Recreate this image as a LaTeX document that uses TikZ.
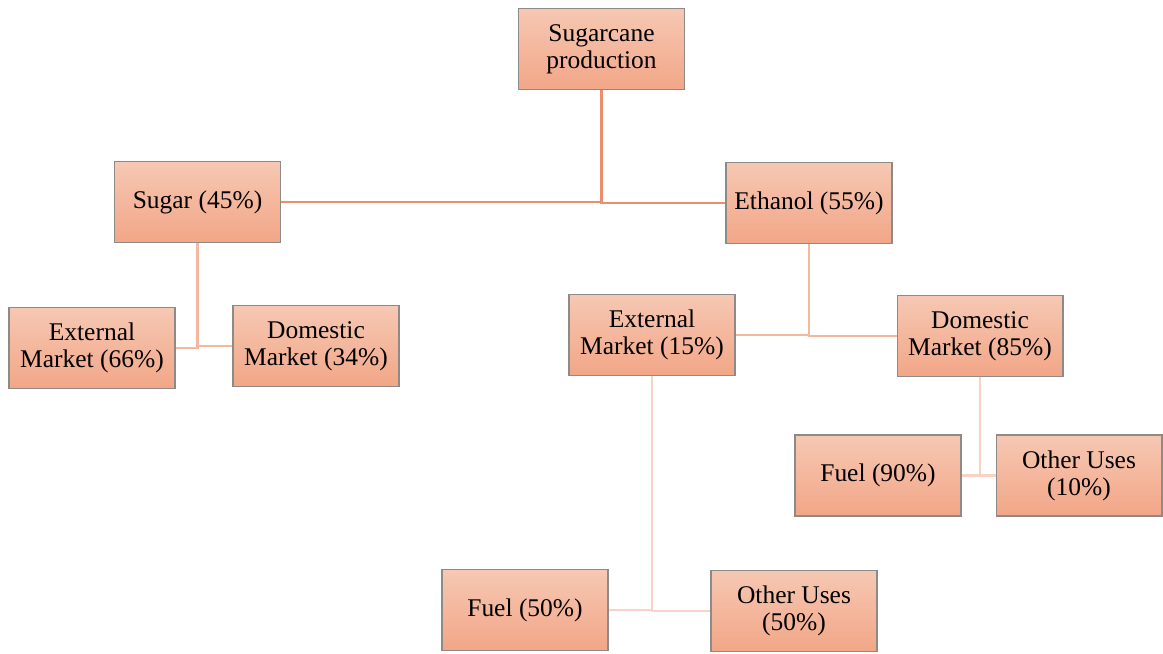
\documentclass[tikz,border=0pt]{standalone}
\usepackage{fontspec}
\setmainfont{Liberation Serif}
\definecolor{boxtop}{HTML}{F6C8B3}
\definecolor{boxbot}{HTML}{F2A687}
\definecolor{boxrand}{HTML}{8E8A88}
\definecolor{linieA}{HTML}{E98F6C}
\definecolor{linieB}{HTML}{F4B8A0}
\definecolor{linieC}{HTML}{F8D2C4}
\tikzset{
  kasten/.style={draw=boxrand, line width=0.6pt, top color=boxtop, bottom color=boxbot,
    minimum width=3.32cm, minimum height=1.62cm, align=center, inner sep=2pt,
    font=\fontsize{14.5}{15.5}\selectfont},
  verbA/.style={draw=linieA, line width=1.4pt},
  verbB/.style={draw=linieB, line width=1.4pt},
  verbC/.style={draw=linieC, line width=1.4pt}
}
\begin{document}
\begin{tikzpicture}[x=0.02cm,y=-0.02cm]
		\useasboundingbox (0,0) rectangle (1163,653);
		
		% Kaesten
		\node[kasten] (zuckerrohr) at (601.5,49) {Sugarcane\\production};
		\node[kasten] (zucker) at (197.5,202) {Sugar (45\%)};
		\node[kasten] (ethanol) at (809,203) {Ethanol (55\%)};
		\node[kasten] (zuckerext) at (92,348) {External\\Market (66\%)};
		\node[kasten] (zuckerdom) at (316,346) {Domestic\\Market (34\%)};
		\node[kasten] (ethext) at (652,335) {External\\Market (15\%)};
		\node[kasten] (ethdom) at (980,336) {Domestic\\Market (85\%)};
		\node[kasten] (domfuel) at (878,475.5) {Fuel (90\%)};
		\node[kasten] (domother) at (1079,475.5) {Other Uses\\(10\%)};
		\node[kasten] (extfuel) at (525,610) {Fuel (50\%)};
		\node[kasten] (extother) at (794,611) {Other Uses\\(50\%)};
		
		% Erste Ebene
		\draw[verbA] (zuckerrohr.south) |- (zucker.east);
		\draw[verbA] (zuckerrohr.south) |- (ethanol.west);
		
		% Zweite Ebene
		\draw[verbB] (zucker.south) |- (zuckerext.east);
		\draw[verbB] (zucker.south) |- (zuckerdom.west);
		\draw[verbB] (ethanol.south) |- (ethext.east);
		\draw[verbB] (ethanol.south) |- (ethdom.west);
		
		% Dritte Ebene
		\draw[verbC] (ethdom.south) |- (domfuel.east);
		\draw[verbC] (ethdom.south) |- (domother.west);
		\draw[verbC] (ethext.south) |- (extfuel.east);
		\draw[verbC] (ethext.south) |- (extother.west);
		
	\end{tikzpicture}
\end{document}
